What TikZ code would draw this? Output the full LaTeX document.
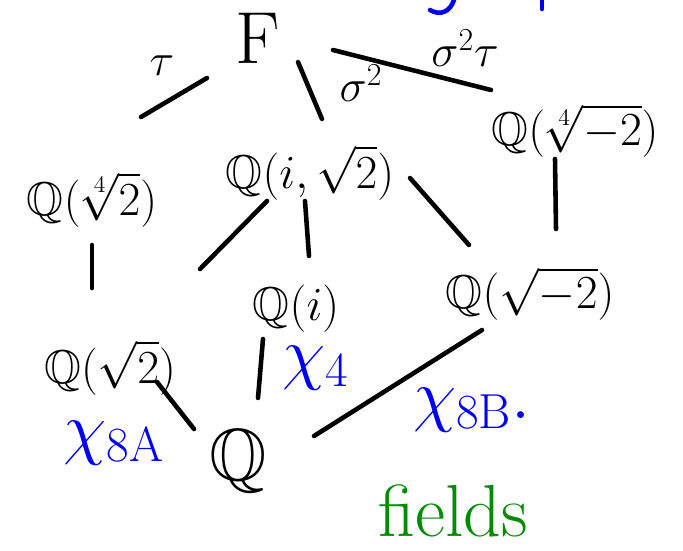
\RequirePackage{fix-cm}
\documentclass[tikz,border=0pt]{standalone}
\usepackage{amsmath,amssymb}
\usetikzlibrary{calc}

\definecolor{penblue}{RGB}{0,0,240}
\definecolor{pengreen}{RGB}{0,140,0}

\begin{document}
\begin{tikzpicture}[x=0.02cm, y=-0.02cm,
    fld/.style={inner sep=0pt, anchor=base, font=\fontsize{27}{31}\selectfont},
    topfld/.style={inner sep=0pt, anchor=base, font=\fontsize{42}{46}\selectfont},
    grp/.style={inner sep=0pt, font=\fontsize{26}{30}\selectfont},
    chr/.style={inner sep=0pt, text=penblue, font=\fontsize{40}{44}\selectfont},
    link/.style={line width=2.6pt, line cap=round}
]
\useasboundingbox (0,0) rectangle (683,551);

% the fields
\node[topfld] (F) at (258,63) {$\mathrm{F}$};
\node[fld] (q42) at (92,215) {$\mathbb{Q}(\sqrt[4]{2})$};
\node[fld] (qi2) at (310,188) {$\mathbb{Q}(i,\sqrt{2})$};
\node[fld] (qm42) at (575,145) {$\mathbb{Q}(\sqrt[4]{-2})$};
\node[fld] (q2) at (110,383) {$\mathbb{Q}(\sqrt{2})$};
\node[fld] (qi) at (296,320) {$\mathbb{Q}(i)$};
\node[fld] (qm2) at (530,308) {$\mathbb{Q}(\sqrt{-2})$};
\node[fld, font=\fontsize{42}{46}\selectfont] (Q) at (238,480) {$\mathbb{Q}$};

% inclusions
\draw[link] ([shift={(-51,15)}]F.base) -- ([shift={(49,-98)}]q42.base);
\draw[link] ([shift={(40,-1)}]F.base) -- ([shift={(12,-69)}]qi2.base);
\draw[link] ([shift={(75,-13)}]F.base) -- ([shift={(-84,-55)}]qm42.base);
\draw[link] ([shift={(0,30)}]q42.base) -- ([shift={(-18,-95)}]q2.base);
\draw[link] ([shift={(-43,13)}]qi2.base) -- ([shift={(90,-114)}]q2.base);
\draw[link] ([shift={(-5,13)}]qi2.base) -- ([shift={(13,-64)}]qi.base);
\draw[link] ([shift={(100,-10)}]qi2.base) -- ([shift={(-61,-63)}]qm2.base);
\draw[link] ([shift={(-20,14)}]qm42.base) -- ([shift={(26,-79)}]qm2.base);
\draw[link] ([shift={(47,-1)}]q2.base) -- ([shift={(-44,-51)}]Q.base);
\draw[link] ([shift={(-33,19)}]qi.base) -- ([shift={(20,-82)}]Q.base);
\draw[link] ([shift={(-48,22)}]qm2.base) -- ([shift={(76,-44)}]Q.base);

% group elements
\node[grp] (tau) at (162,66) {$\tau$};
\node[grp] (sig) at (361,83) {$\sigma^2$};
\node[grp] (sigtau) at (465,48) {$\sigma^2\tau$};

% characters
\node[chr] (chi8a) at (114,443) {$\chi_{\mathrm{8A}}$};
\node[chr] (chi4) at (316,368) {$\chi_4$};
\node[chr] (chi8b) at (472,410) {$\chi_{\mathrm{8B}}.$};
\node[inner sep=0pt, text=pengreen, font=\fontsize{42}{46}\selectfont] (lbl) at (453,511) {fields};

% cut-off pen strokes at the top
\draw[link, penblue] (454,0) .. controls (450,12) and (440,16) .. (430,10);
\draw[link, penblue] (542,0) -- (542,9);
\end{tikzpicture}
\end{document}
